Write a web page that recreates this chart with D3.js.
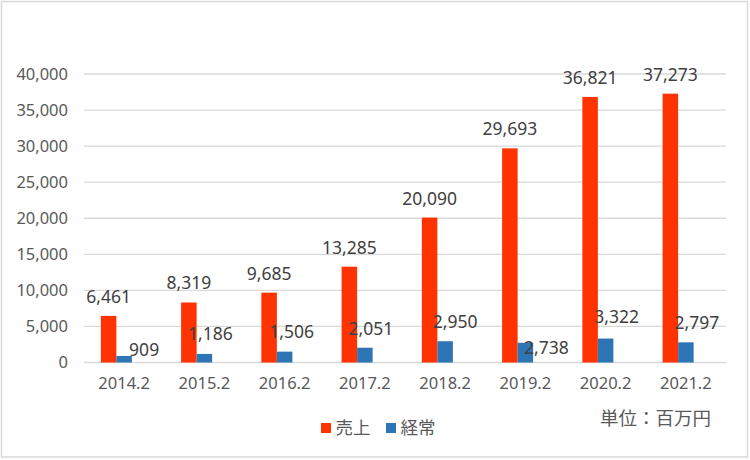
<!DOCTYPE html>
<html><head><meta charset="utf-8">
<script src="https://cdn.jsdelivr.net/npm/d3@7"></script>
<style>
html,body{margin:0;padding:0;background:#fff;}
svg{display:block;}
</style></head>
<body>
<svg id="chart" width="750" height="460"></svg>
<script>
const categories = ["2014.2","2015.2","2016.2","2017.2","2018.2","2019.2","2020.2","2021.2"];
const sales = [6461, 8319, 9685, 13285, 20090, 29693, 36821, 37273];
const ordinary = [909, 1186, 1506, 2051, 2950, 2738, 3322, 2797];
const seriesNames = ["売上", "経常"];
const yTicks = [0, 5000, 10000, 15000, 20000, 25000, 30000, 35000, 40000];
const unitLabel = "単位：百万円";

const colors = ["#FF3300", "#2E75B6"];
// manual label offsets for the 経常 labels (dx, dy relative to default position)
const ordNudge = [[14,14],[0,0],[1,0],[0,1],[4,0],[15,25],[5,-2],[5,0]];

const svg = d3.select("#chart");
const W = 750, H = 460;
const plot = {left: 84, right: 726, top: 74, bottom: 362.5};
const numFont = "'Noto Sans', 'DejaVu Sans', sans-serif";
const jpFont = "'Noto Sans CJK JP', 'Noto Sans', sans-serif";

svg.append("rect").attr("x",1.5).attr("y",1.5).attr("width",746).attr("height",455.5)
  .attr("fill","#fff").attr("stroke","#d9d9d9").attr("stroke-width",1.5);

const x0 = d3.scaleBand().domain(categories).range([plot.left, plot.right])
  .paddingInner(0.42).paddingOuter(0.21);
const x1 = d3.scaleBand().domain([0,1,2]).range([0, x0.bandwidth()]);
const y = d3.scaleLinear().domain([0, 40000]).range([plot.bottom, plot.top]);
const fmt = d3.format(",");

// gridlines
svg.append("g").selectAll("line").data(yTicks).join("line")
  .attr("x1", plot.left).attr("x2", plot.right)
  .attr("y1", d => y(d)).attr("y2", d => y(d))
  .attr("stroke", "#d9d9d9").attr("stroke-width", 1.3);

// y axis
const yAxis = svg.append("g").attr("transform", `translate(${plot.left - 16},0)`)
  .call(d3.axisLeft(y).tickValues(yTicks).tickSize(0).tickPadding(0).tickFormat(fmt));
yAxis.select(".domain").remove();
yAxis.selectAll("text").attr("font-family", numFont).attr("font-size", "16.5px")
  .attr("fill", "#595959");

// x axis
const xAxis = svg.append("g").attr("transform", `translate(0,${plot.bottom})`)
  .call(d3.axisBottom(x0).tickSize(0).tickPadding(15));
xAxis.select(".domain").remove();
xAxis.selectAll("text").attr("font-family", numFont).attr("font-size", "16.5px")
  .attr("fill", "#595959");

const series = [sales, ordinary];
series.forEach((vals, si) => {
  svg.append("g").selectAll("rect").data(vals).join("rect")
    .attr("x", (d, i) => x0(categories[i]) + x1(si))
    .attr("width", x1.bandwidth())
    .attr("y", d => y(d))
    .attr("height", d => y(0) - y(d))
    .attr("fill", colors[si]);
});

// sales labels
svg.append("g").selectAll("text").data(sales).join("text")
  .attr("x", (d, i) => x0(categories[i]) + x1(0) + x1.bandwidth()/2)
  .attr("y", d => y(d) - 13)
  .attr("text-anchor", "middle")
  .attr("font-family", numFont).attr("font-size", "17.5px").attr("fill", "#404040")
  .text(d => fmt(d));

// ordinary labels
svg.append("g").selectAll("text").data(ordinary).join("text")
  .attr("x", (d, i) => x0(categories[i]) + x1(1) + x1.bandwidth()/2 + 6 + ordNudge[i][0])
  .attr("y", (d, i) => y(d) - 13.5 + ordNudge[i][1])
  .attr("text-anchor", "middle")
  .attr("font-family", numFont).attr("font-size", "17.5px").attr("fill", "#404040")
  .text(d => fmt(d));

// legend
const legend = svg.append("g");
const legendX = [321, 386];
seriesNames.forEach((name, i) => {
  legend.append("rect").attr("x", legendX[i]).attr("y", 423).attr("width", 10).attr("height", 10)
    .attr("fill", colors[i]);
  legend.append("text").attr("x", legendX[i] + 14.5).attr("y", 433.5)
    .attr("font-family", jpFont).attr("font-size", "17.5px").attr("fill", "#595959")
    .text(name);
});

svg.append("text").attr("x", 711).attr("y", 424.5).attr("text-anchor", "end")
  .attr("font-family", jpFont).attr("font-size", "18.5px").attr("fill", "#595959")
  .text(unitLabel);
</script>
</body></html>
